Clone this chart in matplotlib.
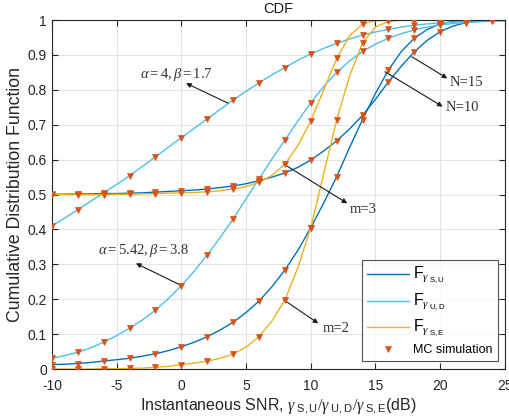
import numpy as np
import matplotlib
matplotlib.use("Agg")
import matplotlib.pyplot as plt

plt.rcParams['font.family'] = ['Liberation Sans', 'DejaVu Sans']
plt.rcParams['axes.unicode_minus'] = False
plt.rcParams['mathtext.fontset'] = 'custom'
plt.rcParams['mathtext.rm'] = 'Liberation Serif'
plt.rcParams['mathtext.it'] = 'Liberation Serif:italic'
plt.rcParams['mathtext.sf'] = 'Liberation Sans'

# ---- data ----
snr_line = list(range(-10, 26))          # dB, analytic curves
snr_mc = list(range(-10, 25, 2))         # dB, MC simulation points

su_n10 = [0.013, 0.014, 0.016, 0.019, 0.023, 0.027, 0.031, 0.037, 0.044, 0.053,
          0.064, 0.077, 0.093, 0.112, 0.134, 0.162, 0.195, 0.236, 0.284, 0.34,
          0.405, 0.476, 0.551, 0.635, 0.715, 0.79, 0.857, 0.91, 0.948, 0.973,
          0.989, 0.996, 0.999, 1.0, 1.0, 1.0]
su_n15 = [0.501, 0.501, 0.502, 0.502, 0.503, 0.503, 0.504, 0.505, 0.507, 0.509,
          0.511, 0.513, 0.516, 0.52, 0.525, 0.531, 0.54, 0.55, 0.562, 0.578,
          0.599, 0.625, 0.654, 0.688, 0.727, 0.773, 0.823, 0.868, 0.909, 0.942,
          0.967, 0.983, 0.993, 0.997, 0.999, 1.0]
ud_a4 = [0.41, 0.433, 0.457, 0.481, 0.505, 0.529, 0.554, 0.581, 0.608, 0.636,
         0.663, 0.69, 0.717, 0.744, 0.771, 0.796, 0.82, 0.843, 0.864, 0.885,
         0.903, 0.919, 0.933, 0.946, 0.957, 0.966, 0.973, 0.98, 0.985, 0.989,
         0.992, 0.994, 0.996, 0.997, 0.998, 0.999]
ud_a542 = [0.031, 0.039, 0.048, 0.061, 0.077, 0.096, 0.117, 0.141, 0.169, 0.202,
           0.239, 0.281, 0.327, 0.377, 0.43, 0.488, 0.545, 0.602, 0.656, 0.711,
           0.763, 0.81, 0.85, 0.883, 0.91, 0.931, 0.948, 0.961, 0.972, 0.98,
           0.986, 0.99, 0.993, 0.995, 0.997, 0.998]
se_m2 = [0.0, 0.0, 0.0, 0.0, 0.001, 0.001, 0.002, 0.003, 0.005, 0.008,
         0.013, 0.017, 0.023, 0.031, 0.043, 0.063, 0.093, 0.138, 0.198, 0.29,
         0.405, 0.56, 0.713, 0.84, 0.935, 0.98, 0.996, 1.0, 1.0, 1.0,
         1.0, 1.0, 1.0, 1.0, 1.0, 1.0]
se_m3 = [0.5, 0.5, 0.5, 0.5, 0.5, 0.501, 0.501, 0.502, 0.503, 0.504,
         0.505, 0.506, 0.508, 0.511, 0.516, 0.523, 0.535, 0.555, 0.587, 0.64,
         0.711, 0.8, 0.89, 0.955, 0.989, 0.998, 1.0, 1.0, 1.0, 1.0,
         1.0, 1.0, 1.0, 1.0, 1.0, 1.0]

x_ticks = [-10, -5, 0, 5, 10, 15, 20, 25]
y_ticks = [0, 0.1, 0.2, 0.3, 0.4, 0.5, 0.6, 0.7, 0.8, 0.9, 1]
y_tick_labels = ['0', '0.1', '0.2', '0.3', '0.4', '0.5', '0.6', '0.7', '0.8', '0.9', '1']

legend_labels = [r'$\mathsf{F}_{\gamma_{\ \mathsf{S,U}}}$',
                 r'$\mathsf{F}_{\gamma_{\ \mathsf{U,D}}}$',
                 r'$\mathsf{F}_{\gamma_{\ \mathsf{S,E}}}$',
                 'MC simulation']

c_su = '#0072BD'
c_ud = '#4DBEEE'
c_se = '#EDB120'
c_mc = '#D95319'

fig = plt.figure(figsize=(5.09, 4.18), dpi=100)
ax = fig.add_axes([0.102, 0.117, 0.890, 0.835])

lw = 1.0
h_su, = ax.plot(snr_line, su_n10, color=c_su, lw=lw)
ax.plot(snr_line, su_n15, color=c_su, lw=lw)
h_ud, = ax.plot(snr_line, ud_a4, color=c_ud, lw=lw)
ax.plot(snr_line, ud_a542, color=c_ud, lw=lw)
h_se, = ax.plot(snr_line, se_m2, color=c_se, lw=lw)
ax.plot(snr_line, se_m3, color=c_se, lw=lw)

h_mc = None
for series in [su_n10, su_n15, ud_a4, ud_a542, se_m2, se_m3]:
    mc_vals = series[::2][:len(snr_mc)]
    h_mc, = ax.plot(snr_mc, mc_vals, linestyle='none', marker='v',
                    markersize=4.5, color=c_mc, markeredgewidth=0.5, zorder=5)

ax.set_xlim(-10, 25)
ax.set_ylim(0, 1)
ax.set_xticks(x_ticks)
ax.set_yticks(y_ticks)
ax.set_yticklabels(y_tick_labels)
ax.grid(True, color='#e3e3e3', lw=0.8)
ax.set_axisbelow(True)
ax.tick_params(direction='in', top=True, right=True, length=4, labelsize=10,
               colors='#262626', width=0.8)
ax.tick_params(axis='x', pad=7)
for s in ax.spines.values():
    s.set_color('#262626')
    s.set_linewidth(0.8)

ax.set_title('CDF', fontsize=10.5, color='#1a1a1a', pad=5)
ax.set_xlabel(r'Instantaneous SNR, $\gamma_{\ \mathsf{S,U}}/\gamma_{\ \mathsf{U,D}}/\gamma_{\ \mathsf{S,E}}$(dB)',
              fontsize=11.5, color='#262626', labelpad=2)
ax.set_ylabel('Cumulative Distribution Function', fontsize=12.8, color='#262626', labelpad=3)

arrow = dict(arrowstyle='-|>', color='#1a1a1a', lw=0.8, mutation_scale=7,
             shrinkA=0, shrinkB=0)
tfont = dict(fontsize=10.5, color='#333333', family='Liberation Serif')

ax.annotate('', xy=(0.36, 0.819), xytext=(3.6, 0.762), arrowprops=arrow)
ax.text(-0.4, 0.843, r'$\alpha = 4, \beta = 1.7$', ha='center', va='center', **tfont)

ax.annotate('', xy=(-3.51, 0.303), xytext=(0.02, 0.239), arrowprops=arrow)
ax.text(-2.95, 0.341, r'$\alpha = 5.42, \beta = 3.8$', ha='center', va='center', **tfont)

ax.annotate('', xy=(12.82, 0.475), xytext=(7.93, 0.587), arrowprops=arrow)
ax.text(13.0, 0.456, 'm=3', ha='left', va='center', **tfont)

ax.annotate('', xy=(10.58, 0.131), xytext=(7.93, 0.198), arrowprops=arrow)
ax.text(10.9, 0.115, 'm=2', ha='left', va='center', **tfont)

ax.annotate('', xy=(20.55, 0.833), xytext=(17.8, 0.895), arrowprops=arrow)
ax.text(20.75, 0.821, 'N=15', ha='left', va='center', **tfont)

ax.annotate('', xy=(20.19, 0.752), xytext=(15.73, 0.852), arrowprops=arrow)
ax.text(20.45, 0.749, 'N=10', ha='left', va='center', **tfont)

leg = ax.legend([h_su, h_ud, h_se, h_mc], legend_labels, loc='lower right',
                bbox_to_anchor=(0.9845, 0.0229), borderaxespad=0,
                fontsize=9, frameon=True, fancybox=False, edgecolor='#262626',
                handlelength=3.4, labelspacing=0.45, numpoints=1,
                handletextpad=0.35, borderpad=0.4)
for t in leg.get_texts()[:3]:
    t.set_fontsize(11.5)
leg.get_frame().set_linewidth(0.8)

fig.savefig('out.png', dpi=100)
